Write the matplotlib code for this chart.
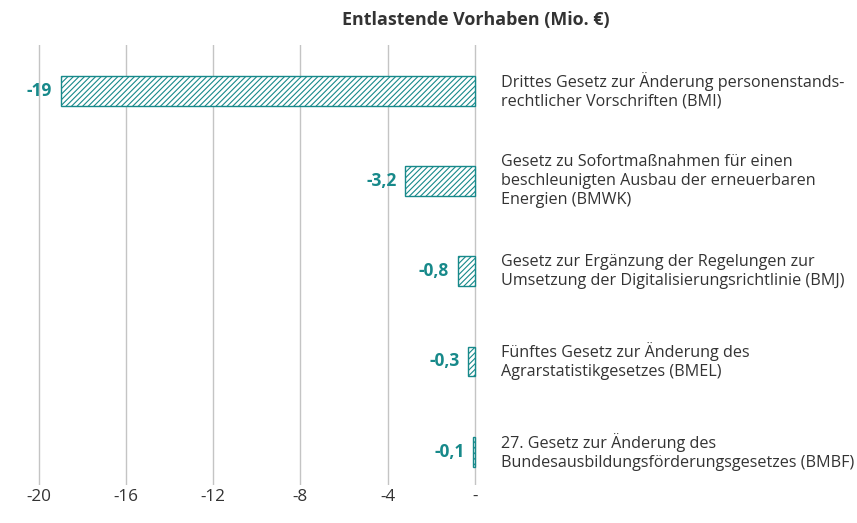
import matplotlib.pyplot as plt

plt.rcParams['font.family'] = ['Open Sans', 'DejaVu Sans']
plt.rcParams['hatch.color'] = '#17898a'
plt.rcParams['hatch.linewidth'] = 0.8

# Entlastende Vorhaben, Werte in Mio. Euro
vorhaben = [
    'Drittes Gesetz zur Änderung personenstands-\nrechtlicher Vorschriften (BMI)',
    'Gesetz zu Sofortmaßnahmen für einen\nbeschleunigten Ausbau der erneuerbaren\nEnergien (BMWK)',
    'Gesetz zur Ergänzung der Regelungen zur\nUmsetzung der Digitalisierungsrichtlinie (BMJ)',
    'Fünftes Gesetz zur Änderung des\nAgrarstatistikgesetzes (BMEL)',
    '27. Gesetz zur Änderung des\nBundesausbildungsförderungsgesetzes (BMBF)',
]
werte = [-19, -3.2, -0.8, -0.3, -0.1]
xticks = [-20, -16, -12, -8, -4, 0]
xticklabels = ['-20', '-16', '-12', '-8', '-4', '-']

teal = '#17898a'
textfarbe = '#333333'

fig = plt.figure(figsize=(8.57, 5.23), dpi=100)
ax = fig.add_axes([17 / 857, 38 / 523, (481.5 - 17) / 857, 440 / 523])

pos = list(range(len(werte)))
ax.barh(pos, werte, height=0.33, color='white', edgecolor=teal,
        linewidth=1.0, hatch='//////', zorder=3)

for y, v, name in zip(pos, werte, vorhaben):
    lbl = f'{v:.1f}'.replace('.', ',') if abs(v) < 10 else f'{v:.0f}'
    ax.annotate(lbl, (v, y), xytext=(-6, 0), textcoords='offset points',
                ha='right', va='center', fontsize=12.5, fontweight='bold',
                color=teal)
    ax.annotate(name, (0, y), xytext=(18.5, 0), textcoords='offset points',
                ha='left', va='center', fontsize=11.6, color=textfarbe,
                linespacing=1.25, annotation_clip=False)

ax.set_xlim(-21, 0.3)
ax.set_ylim(4.37, -0.51)
ax.set_xticks(xticks)
ax.set_xticklabels(xticklabels)
ax.set_yticks([])
ax.tick_params(axis='x', length=0, pad=3, labelsize=12.3, colors=textfarbe)
ax.grid(axis='x', color='#c4c4c4', linewidth=1.0, zorder=0)
for s in ax.spines.values():
    s.set_visible(False)

fig.text(476 / 857, 1 - 20 / 523, 'Entlastende Vorhaben (Mio. €)',
         ha='center', va='center', fontsize=12.9, fontweight='bold',
         color=textfarbe)

fig.savefig('out.png', dpi=100, facecolor='white')
